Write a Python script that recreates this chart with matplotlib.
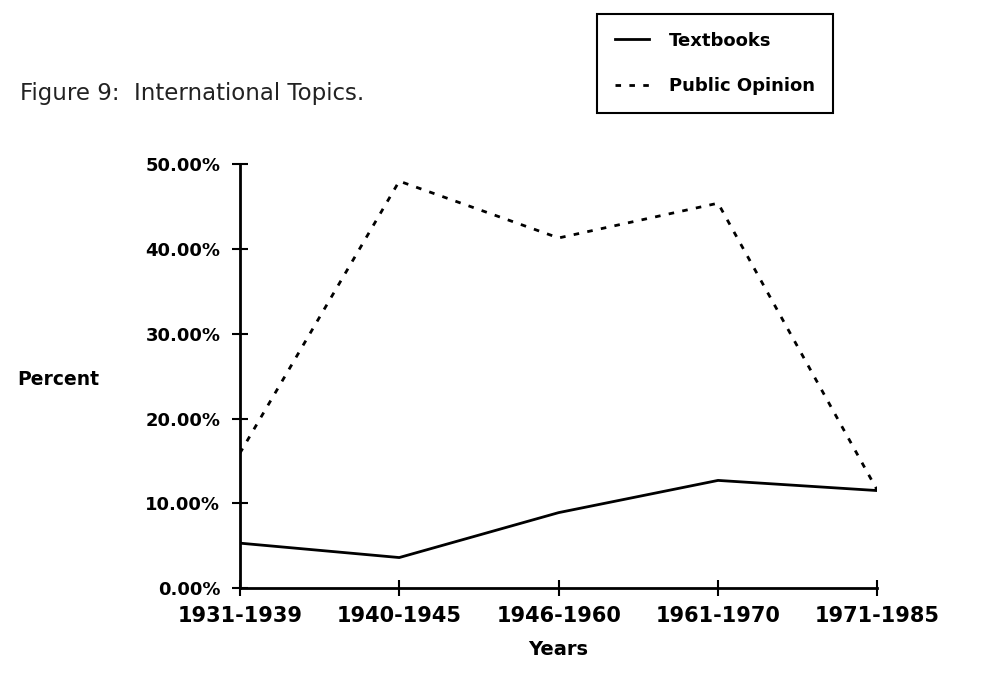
import numpy as np
import matplotlib.pyplot as plt
from matplotlib.ticker import PercentFormatter

# data
periods = ['1931-1939', '1940-1945', '1946-1960', '1961-1970', '1971-1985']
textbooks = [5.3, 3.6, 8.9, 12.7, 11.5]
public_opinion = [15.9, 48.0, 41.3, 45.4, 11.5]

x = np.arange(len(periods))

fig = plt.figure(figsize=(9.87, 6.87), dpi=100)
ax = fig.add_axes([0.243, 0.144, 0.646, 0.617])

l1, = ax.plot(x, textbooks, color='black', lw=2, label='Textbooks')
l2, = ax.plot(x, public_opinion, color='black', lw=2, linestyle=(0, (2, 3)),
              label='Public Opinion')

ax.set_xlim(0, 4)
ax.set_ylim(0, 50)
ax.set_yticks([0, 10, 20, 30, 40, 50])
ax.yaxis.set_major_formatter(PercentFormatter(decimals=2))
ax.set_xticks(x)
ax.set_xticklabels(periods)

for s in ['top', 'right']:
    ax.spines[s].set_visible(False)
for s in ['left', 'bottom']:
    ax.spines[s].set_linewidth(2)
ax.tick_params(direction='inout', length=12, width=1.5, pad=8)
ax.tick_params(axis='y', labelsize=13)
ax.tick_params(axis='x', labelsize=15, pad=7)
for lab in ax.get_xticklabels() + ax.get_yticklabels():
    lab.set_fontweight('bold')

ax.set_xlabel('Years', fontsize=14, fontweight='bold', labelpad=10)
ax.set_ylabel('Percent', fontsize=13.5, fontweight='bold', rotation=0)
ax.yaxis.set_label_coords(-0.285, 0.47)

fig.text(0.02, 0.855, 'Figure 9:  International Topics.', fontsize=16.5, color='#222222')

leg = fig.legend(handles=[l1, l2], loc='upper left', bbox_to_anchor=(0.605, 0.98),
                 fancybox=False, edgecolor='black', framealpha=1,
                 handlelength=1.9, handletextpad=1.1, fontsize=13,
                 borderpad=1.0, labelspacing=1.5, borderaxespad=0)
leg.get_frame().set_linewidth(1.5)
for t in leg.get_texts():
    t.set_fontweight('bold')

plt.savefig('out.png', dpi=100)
